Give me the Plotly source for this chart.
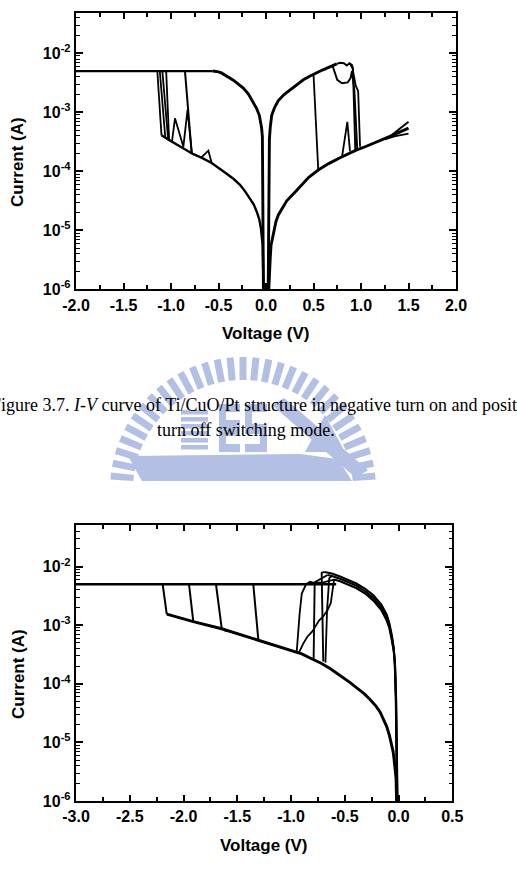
import math
import plotly.graph_objects as go

W, H = 517, 882

# ================= Figure 3.7 (top panel) =================
TOP_X_TICKS = [-2.0, -1.5, -1.0, -0.5, 0.0, 0.5, 1.0, 1.5, 2.0]
TOP_CC_V = [-2.0, -0.56]
TOP_CC_I = [5.0e-3, 5.0e-3]

TOP_LRS_NEG_V = [-0.56, -0.53, -0.50, -0.47, -0.43, -0.39, -0.344, -0.29, -0.239, -0.185, -0.134, -0.10, -0.07, -0.055, -0.046, -0.038, -0.034, -0.030, -0.026]
TOP_LRS_NEG_I = [5.0e-3, 4.95e-3, 4.85e-3, 4.65e-3, 4.3e-3, 3.9e-3, 3.5e-3, 3.0e-3, 2.57e-3, 2.04e-3, 1.51e-3, 1.17e-3, 8.9e-4, 6.9e-4, 5.4e-4, 3.8e-4, 1.0e-4, 1.0e-5, 6.0e-7]

TOP_LRS_POS_V = [0.022, 0.026, 0.030, 0.036, 0.045, 0.06, 0.09, 0.13, 0.19, 0.253, 0.32, 0.393, 0.46, 0.50, 0.534, 0.60, 0.639, 0.70, 0.744]
TOP_LRS_POS_I = [6.3e-7, 1.0e-5, 1.0e-4, 3.55e-4, 5.6e-4, 8.9e-4, 1.2e-3, 1.58e-3, 2.0e-3, 2.4e-3, 2.95e-3, 3.55e-3, 4.07e-3, 4.47e-3, 4.68e-3, 5.25e-3, 5.62e-3, 6.17e-3, 6.6e-3]

TOP_HRS_POS_V = [0.024, 0.028, 0.035, 0.045, 0.053, 0.07, 0.084, 0.105, 0.13, 0.17, 0.218, 0.29, 0.358, 0.45, 0.55, 0.66, 0.779, 0.87, 0.955, 1.05, 1.13, 1.22, 1.305, 1.40, 1.50]
TOP_HRS_POS_I = [6.3e-7, 1.0e-6, 2.0e-6, 3.55e-6, 5.6e-6, 7.9e-6, 1.07e-5, 1.41e-5, 1.82e-5, 2.4e-5, 3.16e-5, 4.17e-5, 5.5e-5, 7.9e-5, 1.05e-4, 1.35e-4, 1.7e-4, 2.0e-4, 2.3e-4, 2.63e-4, 2.95e-4, 3.4e-4, 3.9e-4, 4.57e-4, 5.4e-4]
TOP_HRS_END1_V = [1.305, 1.40, 1.50]
TOP_HRS_END1_I = [3.9e-4, 5.1e-4, 6.9e-4]
TOP_HRS_END2_V = [1.25, 1.35, 1.50]
TOP_HRS_END2_I = [3.47e-4, 3.9e-4, 4.37e-4]

TOP_HRS_NEG_V = [-0.024, -0.028, -0.032, -0.035, -0.045, -0.053, -0.07, -0.098, -0.13, -0.168, -0.22, -0.274, -0.34, -0.414, -0.49, -0.572, -0.68, -0.765, -0.85, -0.94, -1.02, -1.10]
TOP_HRS_NEG_I = [6.3e-7, 1.58e-6, 3.16e-6, 5.6e-6, 7.9e-6, 1.07e-5, 1.51e-5, 2.09e-5, 2.75e-5, 3.47e-5, 4.57e-5, 5.9e-5, 7.4e-5, 9.1e-5, 1.12e-4, 1.38e-4, 1.7e-4, 1.95e-4, 2.34e-4, 2.82e-4, 3.39e-4, 4.07e-4]

# set transitions (negative) and reset transitions (positive)
TOP_SET1_V = [-1.10, -1.144]
TOP_SET1_I = [4.07e-4, 5.0e-3]
TOP_SET2_V = [-1.06, -1.118]
TOP_SET2_I = [3.7e-4, 5.0e-3]
TOP_SET3_V = [-0.78, -0.826, -0.87, -0.958, -0.99, -1.03, -1.091]
TOP_SET3_I = [2.0e-4, 1.1e-3, 2.6e-4, 7.9e-4, 3.16e-4, 3.47e-4, 5.0e-3]
TOP_SET4_V = [-0.782, -0.853]
TOP_SET4_I = [2.0e-4, 5.0e-3]
TOP_SET5_V = [-1.02, -1.051]
TOP_SET5_I = [3.4e-4, 5.0e-3]
TOP_BUMP_V = [-0.572, -0.607, -0.677]
TOP_BUMP_I = [1.38e-4, 2.24e-4, 1.74e-4]

TOP_RST1_V = [0.50, 0.55]
TOP_RST1_I = [4.47e-3, 1.05e-4]
TOP_RST2_V = [0.744, 0.78, 0.82, 0.85, 0.88, 0.905, 0.915, 0.94]
TOP_RST2_I = [6.6e-3, 6.9e-3, 6.8e-3, 6.2e-3, 6.8e-3, 6.3e-3, 5.6e-3, 2.3e-4]
TOP_RST3_V = [0.70, 0.72, 0.75, 0.80, 0.86, 0.89, 0.905, 0.93, 0.96]
TOP_RST3_I = [6.17e-3, 4.8e-3, 3.55e-3, 3.1e-3, 3.2e-3, 3.8e-3, 5.0e-3, 2.4e-3, 2.4e-4]
TOP_RST4_V = [0.88, 0.91, 0.945, 0.97, 0.99]
TOP_RST4_I = [6.8e-3, 5.6e-3, 2.8e-3, 2.3e-3, 2.6e-4]
TOP_SPIKE_V = [0.80, 0.856, 0.884]
TOP_SPIKE_I = [1.74e-4, 6.9e-4, 2.2e-4]

# ================= bottom panel =================
BOT_X_TICKS = [-3.0, -2.5, -2.0, -1.5, -1.0, -0.5, 0.0, 0.5]
BOT_CC_V = [-3.0, -0.58]
BOT_CC_I = [5.0e-3, 5.0e-3]

BOT_HRS_V = [-2.156, -1.909, -1.645, -1.50, -1.304, -1.15, -1.0, -0.90, -0.823, -0.72, -0.637, -0.513, -0.45, -0.389, -0.32, -0.265, -0.21, -0.172, -0.14, -0.110, -0.085, -0.063, -0.050, -0.042, -0.032, -0.023, -0.016]
BOT_HRS_I = [1.55e-3, 1.15e-3, 8.7e-4, 7.2e-4, 5.6e-4, 4.57e-4, 3.8e-4, 3.24e-4, 2.75e-4, 2.24e-4, 1.82e-4, 1.29e-4, 1.05e-4, 8.5e-5, 6.8e-5, 5.4e-5, 4.17e-5, 3.3e-5, 2.5e-5, 1.86e-5, 1.32e-5, 9.3e-6, 6.9e-6, 5.2e-6, 3.55e-6, 2.4e-6, 6.3e-7]

BOT_LRS_OUT_V = [-0.012, -0.018, -0.026, -0.036, -0.046, -0.063, -0.085, -0.11, -0.16, -0.234, -0.31, -0.389, -0.47, -0.544, -0.62, -0.69]
BOT_LRS_OUT_I = [6.3e-7, 6.3e-6, 6.3e-5, 2.5e-4, 4.27e-4, 6.8e-4, 1.07e-3, 1.51e-3, 2.24e-3, 3.24e-3, 4.17e-3, 5.1e-3, 6.0e-3, 6.8e-3, 7.6e-3, 8.1e-3]
BOT_LRS_MID_V = [-0.010, -0.016, -0.024, -0.034, -0.045, -0.063, -0.085, -0.11, -0.16, -0.234, -0.31, -0.389, -0.47, -0.544, -0.62, -0.66]
BOT_LRS_MID_I = [6.3e-7, 6.3e-6, 5.6e-5, 2.24e-4, 3.9e-4, 6.2e-4, 9.8e-4, 1.35e-3, 2.0e-3, 2.9e-3, 3.8e-3, 4.7e-3, 5.5e-3, 6.2e-3, 6.9e-3, 7.2e-3]
BOT_LRS_IN_V = [-0.008, -0.014, -0.022, -0.032, -0.044, -0.063, -0.085, -0.11, -0.16, -0.234, -0.31, -0.389, -0.47, -0.544, -0.60]
BOT_LRS_IN_I = [6.3e-7, 6.3e-6, 5.0e-5, 2.0e-4, 3.55e-4, 5.6e-4, 8.9e-4, 1.2e-3, 1.82e-3, 2.63e-3, 3.47e-3, 4.27e-3, 5.0e-3, 5.6e-3, 6.0e-3]

BOT_RST1_V = [-0.69, -0.715, -0.70]
BOT_RST1_I = [8.1e-3, 7.8e-3, 2.4e-4]
BOT_RST2_V = [-0.66, -0.70, -0.75, -0.78, -0.79]
BOT_RST2_I = [7.2e-3, 6.6e-3, 5.75e-3, 5.4e-3, 2.57e-4]
BOT_RST3_V = [-0.60, -0.61, -0.63, -0.66, -0.70, -0.74, -0.80, -0.85, -0.885, -0.93]
BOT_RST3_I = [6.0e-3, 4.47e-3, 2.4e-3, 1.82e-3, 1.41e-3, 1.2e-3, 7.9e-4, 6.3e-4, 4.9e-4, 3.3e-4]
BOT_RST4_V = [-0.60, -0.70, -0.78, -0.823, -0.86, -0.90, -0.92, -0.935, -0.947]
BOT_RST4_I = [6.0e-3, 5.4e-3, 5.25e-3, 5.5e-3, 5.0e-3, 3.47e-3, 1.58e-3, 6.3e-4, 3.55e-4]
BOT_RST5_V = [-0.62, -0.645, -0.665, -0.68]
BOT_RST5_I = [6.9e-3, 6.3e-3, 1.78e-3, 2.3e-4]

BOT_SET1_V = [-2.156, -2.194]
BOT_SET1_I = [1.55e-3, 5.0e-3]
BOT_SET2_V = [-1.909, -1.949]
BOT_SET2_I = [1.15e-3, 5.0e-3]
BOT_SET3_V = [-1.598, -1.645, -1.698]
BOT_SET3_I = [7.8e-4, 8.9e-4, 5.0e-3]
BOT_SET4_V = [-1.304, -1.351]
BOT_SET4_I = [5.6e-4, 5.0e-3]

Y_TICK_VALS = [1e-6, 1e-5, 1e-4, 1e-3, 1e-2]
Y_TICK_TEXT = ["10<sup>-6</sup>", "10<sup>-5</sup>", "10<sup>-4</sup>", "10<sup>-3</sup>", "10<sup>-2</sup>"]

CAPTION_1 = "Figure 3.7. <i>I-V</i> curve of Ti/CuO/Pt structure in negative turn on and positive"
CAPTION_2 = "turn off switching mode."

# ------------------------------------------------------------
fig = go.Figure()


def add(v, i, ax, w):
    xa, ya = ("x", "y") if ax == 1 else ("x2", "y2")
    fig.add_trace(go.Scatter(x=v, y=i, mode="lines", xaxis=xa, yaxis=ya,
                             line=dict(color="black", width=w),
                             showlegend=False, hoverinfo="skip"))


top_series = [
    (TOP_CC_V, TOP_CC_I, 2.3),
    (TOP_LRS_NEG_V, TOP_LRS_NEG_I, 2.9),
    (TOP_LRS_POS_V, TOP_LRS_POS_I, 2.9),
    (TOP_HRS_POS_V, TOP_HRS_POS_I, 2.9),
    (TOP_HRS_END1_V, TOP_HRS_END1_I, 2.0),
    (TOP_HRS_END2_V, TOP_HRS_END2_I, 1.8),
    (TOP_HRS_NEG_V, TOP_HRS_NEG_I, 2.4),
    (TOP_SET1_V, TOP_SET1_I, 1.8), (TOP_SET2_V, TOP_SET2_I, 1.8),
    (TOP_SET3_V, TOP_SET3_I, 1.8), (TOP_SET4_V, TOP_SET4_I, 2.0),
    (TOP_SET5_V, TOP_SET5_I, 1.8), (TOP_BUMP_V, TOP_BUMP_I, 1.8),
    (TOP_RST1_V, TOP_RST1_I, 1.8), (TOP_RST2_V, TOP_RST2_I, 1.9),
    (TOP_RST3_V, TOP_RST3_I, 1.9), (TOP_RST4_V, TOP_RST4_I, 1.8),
    (TOP_SPIKE_V, TOP_SPIKE_I, 1.8),
]
for v, i, w in top_series:
    add(v, i, 1, w)

bot_series = [
    (BOT_CC_V, BOT_CC_I, 2.3),
    (BOT_HRS_V, BOT_HRS_I, 2.9),
    (BOT_LRS_OUT_V, BOT_LRS_OUT_I, 2.1),
    (BOT_LRS_MID_V, BOT_LRS_MID_I, 2.1),
    (BOT_LRS_IN_V, BOT_LRS_IN_I, 2.1),
    (BOT_RST1_V, BOT_RST1_I, 1.9), (BOT_RST2_V, BOT_RST2_I, 1.9),
    (BOT_RST3_V, BOT_RST3_I, 1.8), (BOT_RST4_V, BOT_RST4_I, 1.8),
    (BOT_RST5_V, BOT_RST5_I, 1.8),
    (BOT_SET1_V, BOT_SET1_I, 2.0), (BOT_SET2_V, BOT_SET2_I, 2.0),
    (BOT_SET3_V, BOT_SET3_I, 2.0), (BOT_SET4_V, BOT_SET4_I, 2.0),
]
for v, i, w in bot_series:
    add(v, i, 2, w)

TICKFONT = dict(family="Liberation Sans, Arial, sans-serif", size=16, color="black", weight="bold")
minor_y = [k * 10.0 ** d for d in range(-6, -1) for k in range(2, 10)]


def xaxis(domain, rng, ticks, anchor):
    return dict(domain=domain, range=rng, anchor=anchor, tickmode="array",
                tickvals=ticks, ticktext=[f"{t:.1f}" for t in ticks],
                ticks="inside", ticklen=6, tickwidth=1.8, tickcolor="black",
                showline=True, linewidth=2.4, linecolor="black", mirror="allticks",
                showgrid=False, zeroline=False, tickfont=TICKFONT,
                minor=dict(tickmode="linear", tick0=0, dtick=0.25, ticks="inside",
                           ticklen=4, tickwidth=1.6, tickcolor="black", showgrid=False))


def yaxis(domain, rng, anchor):
    return dict(domain=domain, range=rng, anchor=anchor, type="log", tickmode="array",
                tickvals=Y_TICK_VALS, ticktext=Y_TICK_TEXT,
                ticks="inside", ticklen=7, tickwidth=1.8, tickcolor="black",
                showline=True, linewidth=2.4, linecolor="black", mirror="allticks",
                showgrid=False, zeroline=False, tickfont=TICKFONT,
                minor=dict(tickmode="array", tickvals=minor_y, ticks="inside",
                           ticklen=3.5, tickwidth=1.3, tickcolor="black", showgrid=False))


def px(x):
    return x / W


def py(y):
    return 1 - y / H


fig.update_layout(
    width=W, height=H, margin=dict(l=0, r=0, t=0, b=0, autoexpand=False),
    paper_bgcolor="white", plot_bgcolor="white",
    xaxis=xaxis([px(76), px(456)], [-2.0, 2.0], TOP_X_TICKS, "y"),
    yaxis=yaxis([py(289.3), py(12.7)], [-6, -1.312], "x"),
    xaxis2=xaxis([px(76), px(452.3)], [-3.0, 0.5], BOT_X_TICKS, "y2"),
    yaxis2=yaxis([py(801), py(525)], [-6, -1.29], "x2"),
)

# ---------------- axis titles and caption ----------------
TITLE_FONT = dict(family="Liberation Sans, Arial, sans-serif", size=17, color="black", weight="bold")
CAP_FONT = dict(family="Liberation Serif, Times New Roman, serif", size=18, color="black")
ann = [
    dict(text="Voltage (V)", x=px(266), y=py(333), font=TITLE_FONT),
    dict(text="Voltage (V)", x=px(264), y=py(845), font=TITLE_FONT),
    dict(text="Current (A)", x=px(18), y=py(162), font=TITLE_FONT, textangle=-90),
    dict(text="Current (A)", x=px(18), y=py(674), font=TITLE_FONT, textangle=-90),
    dict(text=CAPTION_1, x=px(-11), y=py(405), font=CAP_FONT, xanchor="left"),
    dict(text=CAPTION_2, x=px(246), y=py(430), font=CAP_FONT),
]
for a in ann:
    a.setdefault("xanchor", "center")
    fig.add_annotation(xref="paper", yref="paper", yanchor="middle", showarrow=False, **a)

# ---------------- faint university watermark ----------------
WM = "#b3bfe3"


def poly(points):
    return "M " + " L ".join(f"{px(x):.5f},{py(y):.5f}" for x, y in points) + " Z"


shapes = []
cx, cy, r1, r2, bw = 243, 490, 110, 133, 7.0
ang = 6.0
while ang <= 174.5:
    a = math.radians(ang)
    ux, uy = math.cos(a), -math.sin(a)
    nx, ny = -uy, ux
    pts = [(cx + r1 * ux + bw / 2 * nx, cy + r1 * uy + bw / 2 * ny),
           (cx + r2 * ux + bw / 2 * nx, cy + r2 * uy + bw / 2 * ny),
           (cx + r2 * ux - bw / 2 * nx, cy + r2 * uy - bw / 2 * ny),
           (cx + r1 * ux - bw / 2 * nx, cy + r1 * uy - bw / 2 * ny)]
    pts = [(x, min(y, 481)) for x, y in pts]
    shapes.append(poly(pts))
    ang += 5.6
# hull
shapes.append(poly([(128, 456), (300, 454), (338, 459), (352, 481), (142, 481)]))
# building with stripes
for k in range(6):
    shapes.append(poly([(181, 410 + 7 * k), (208, 410 + 7 * k), (208, 414.5 + 7 * k), (181, 414.5 + 7 * k)]))
# letter blocks
shapes.append(poly([(219, 404), (240, 404), (240, 452), (219, 452)]))
shapes.append(poly([(245, 404), (267, 404), (267, 452), (245, 452)]))
# diagonal mast and triangle
shapes.append(poly([(272, 405), (284, 398), (368, 470), (356, 478)]))
shapes.append(poly([(305, 452), (325, 415), (345, 452)]))
for s in shapes:
    fig.add_shape(type="path", path=s, xref="paper", yref="paper",
                  fillcolor=WM, line=dict(width=0), layer="above")
for s in [poly([(226, 412), (240, 412), (240, 420), (226, 420)]),
          poly([(226, 436), (240, 436), (240, 444), (226, 444)]),
          poly([(252, 412), (267, 412), (267, 424), (252, 424)]),
          poly([(245, 434), (260, 434), (260, 444), (245, 444)])]:
    fig.add_shape(type="path", path=s, xref="paper", yref="paper",
                  fillcolor="white", line=dict(width=0), layer="above")

fig.write_html("out.html")
